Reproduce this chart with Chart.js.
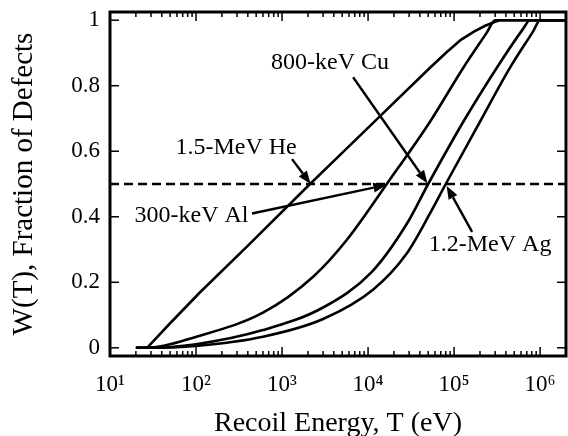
<!DOCTYPE html>
<html><head><meta charset="utf-8">
<script src="https://cdn.jsdelivr.net/npm/chart.js@4"></script>
<style>html,body{margin:0;padding:0;background:#fff}</style>
</head><body>
<canvas id="c" width="568" height="436"></canvas>
<script>
// ---- data ----
const heT = [20, 27, 50, 110, 388, 2115, 5000, 13800, 52500, 80000, 120000, 170000, 230000, 300000, 340000, 2000000];
const heW = [0, 0, 0.075, 0.168, 0.308, 0.5, 0.595, 0.707, 0.855, 0.9, 0.94, 0.965, 0.983, 0.995, 1, 1];
const alT = [20, 27, 101, 607, 2300, 5650, 16500, 52500, 128000, 240000, 300000, 2000000];
const alW = [0, 0, 0.034, 0.108, 0.217, 0.329, 0.5, 0.69, 0.855, 0.962, 1, 1];
const cuT = [20, 27, 100, 600, 3000, 11000, 28000, 50000, 128000, 314000, 640000, 760000, 2000000];
const cuW = [0, 0, 0.011, 0.054, 0.123, 0.231, 0.377, 0.5, 0.69, 0.855, 0.975, 1, 1];
const agT = [20, 27, 100, 600, 3000, 11500, 28000, 52500, 80000, 200000, 447000, 830000, 1000000, 2000000];
const agW = [0, 0, 0.006, 0.034, 0.088, 0.178, 0.287, 0.41, 0.5, 0.69, 0.855, 0.966, 1, 1];
const refT = [10, 2000000];
const refW = [0.5, 0.5];
const seriesNames = ['1.5-MeV He', '300-keV Al', '800-keV Cu', '1.2-MeV Ag'];
const xTickValues = [10, 100, 1000, 10000, 100000, 1000000];
const xTickLabels = ['10\u00B9', '10\u00B2', '10\u00B3', '10\u2074', '10\u2075', '10\u2076'];
const yTickValues = [0, 0.2, 0.4, 0.6, 0.8, 1];
const yTickLabels = ['0', '0.2', '0.4', '0.6', '0.8', '1'];
const xTitle = 'Recoil Energy, T (eV)';
const yTitle = 'W(T), Fraction of Defects';

// ---- annotations (data coordinates) ----
const notes = [
  {text: seriesNames[0], at: [292, 0.61], tail: [1306, 0.576], tip: [2150, 0.5]},
  {text: seriesNames[1], at: [88.7, 0.402], tail: [448, 0.41], tip: [16300, 0.497]},
  {text: seriesNames[2], at: [3610, 0.869], tail: [6700, 0.826], tip: [49000, 0.502]},
  {text: seriesNames[3], at: [262000, 0.314], tail: [162000, 0.354], tip: [82000, 0.494]}
];

const FONT = "'Liberation Serif', 'Times New Roman', serif";
const pts = (t, w) => t.map((v, i) => ({x: v, y: w[i]}));
const mk = (label, t, w, smooth) => Object.assign({label, data: pts(t, w), borderColor: '#000', borderWidth: 2.6,
  pointRadius: 0, fill: false}, smooth ? {cubicInterpolationMode: 'monotone'} : {tension: 0});

const framePlugin = {
  id: 'frame',
  afterDatasetsDraw(chart) {
    const {ctx, chartArea: a, scales: {x, y}} = chart;
    ctx.save();
    ctx.strokeStyle = '#000';
    ctx.fillStyle = '#000';
    const line = (x1, y1, x2, y2) => { ctx.beginPath(); ctx.moveTo(x1, y1); ctx.lineTo(x2, y2); ctx.stroke(); };
    ctx.lineWidth = 1.5;
    for (let e = 1; e <= 6; e++) {
      for (let m = 1; m <= 9; m++) {
        const v = m * Math.pow(10, e);
        if (v < x.min || v > x.max) continue;
        const px = x.getPixelForValue(v);
        const len = m === 1 ? 9 : 5;
        line(px, a.bottom, px, a.bottom - len);
        line(px, a.top, px, a.top + len);
      }
    }
    yTickValues.forEach(v => {
      const py = y.getPixelForValue(v);
      line(a.left, py, a.left + 9, py);
      line(a.right, py, a.right - 9, py);
    });
    ctx.lineWidth = 3;
    ctx.strokeRect(a.left, a.top, a.right - a.left, a.bottom - a.top);
    // arrows + labels
    ctx.font = '24px ' + FONT;
    ctx.textAlign = 'center';
    ctx.textBaseline = 'middle';
    notes.forEach(n => {
      ctx.fillText(n.text, x.getPixelForValue(n.at[0]), y.getPixelForValue(n.at[1]));
      const x1 = x.getPixelForValue(n.tail[0]), y1 = y.getPixelForValue(n.tail[1]);
      const x2 = x.getPixelForValue(n.tip[0]), y2 = y.getPixelForValue(n.tip[1]);
      const ang = Math.atan2(y2 - y1, x2 - x1);
      const hl = 13, hw = 5;
      const bx = x2 - hl * Math.cos(ang), by = y2 - hl * Math.sin(ang);
      ctx.lineWidth = 2.4;
      line(x1, y1, bx, by);
      ctx.beginPath();
      ctx.moveTo(x2, y2);
      ctx.lineTo(bx + hw * Math.sin(ang), by - hw * Math.cos(ang));
      ctx.lineTo(bx - hw * Math.sin(ang), by + hw * Math.cos(ang));
      ctx.closePath();
      ctx.fill();
    });
    ctx.restore();
  }
};

new Chart(document.getElementById('c'), {
  type: 'line',
  data: {
    datasets: [
      mk(seriesNames[0], heT, heW, false),
      mk(seriesNames[1], alT, alW, true),
      mk(seriesNames[2], cuT, cuW, true),
      mk(seriesNames[3], agT, agW, true),
      {label: 'W = 0.5', data: pts(refT, refW), borderColor: '#000', borderWidth: 2.4,
        borderDash: [9, 5], pointRadius: 0, fill: false, tension: 0}
    ]
  },
  options: {
    responsive: false,
    animation: false,
    devicePixelRatio: 1,
    layout: {padding: {top: 12, right: 2, left: 0, bottom: 0}},
    plugins: {legend: {display: false}, tooltip: {enabled: false}},
    scales: {
      x: {
        type: 'logarithmic', min: 10, max: 2000000,
        afterBuildTicks: s => { s.ticks = xTickValues.map(v => ({value: v})); },
        afterFit: s => { s.height = 80; s.paddingLeft = 0; s.paddingRight = 0; },
        grid: {display: false, drawTicks: false},
        border: {display: false},
        ticks: {
          color: '#000', font: {family: FONT, size: 23}, padding: 15, maxRotation: 0, autoSkip: false,
          callback: (v) => { const i = xTickValues.indexOf(v); return i >= 0 ? xTickLabels[i] : ''; }
        },
        title: {display: true, text: xTitle, color: '#000', font: {family: FONT, size: 28, lineHeight: 0.9}, padding: {top: 0, bottom: 0}}
      },
      y: {
        type: 'linear', min: -0.025, max: 1.025,
        afterBuildTicks: s => { s.ticks = yTickValues.map(v => ({value: v})); },
        afterFit: s => { s.width = 110; s.paddingTop = 0; s.paddingBottom = 0; },
        grid: {display: false, drawTicks: false},
        border: {display: false},
        ticks: {
          color: '#000', font: {family: FONT, size: 23}, padding: 10,
          callback: (v) => { const i = yTickValues.indexOf(v); return i >= 0 ? yTickLabels[i] : ''; }
        },
        title: {display: true, text: yTitle, color: '#000', font: {family: FONT, size: 29}, padding: {top: 7, bottom: 0}}
      }
    }
  },
  plugins: [framePlugin]
});
</script>
</body></html>
